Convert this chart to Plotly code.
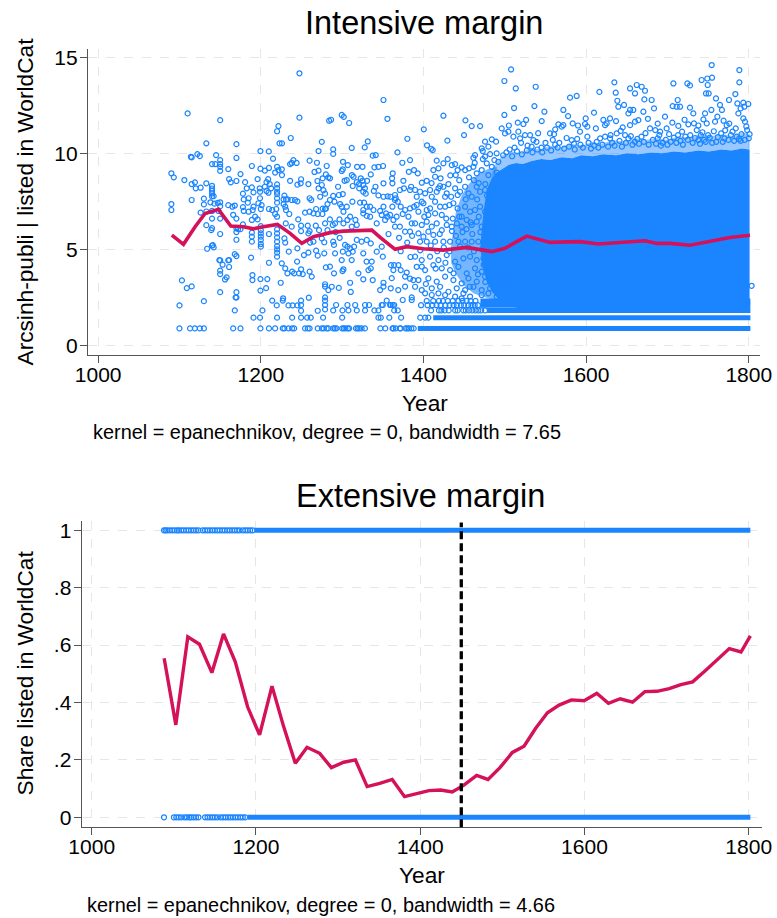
import plotly.graph_objects as go

# ---------------------------------------------------------------
# Intensive margin: arcsinh(publications) of listed authors by year
# ---------------------------------------------------------------
# Individual observations, 1085-1180
obs_1085_1180 = [
    (1110, 12.08), (1150, 11.73), (1133, 10.52), (1170, 10.48), (1090, 8.96), (1093, 8.75),
    (1115, 9.79), (1122, 9.96), (1125, 9.86), (1114, 9.82), (1145, 9.91), (1150, 9.65),
    (1150, 9.44), (1150, 9.30), (1150, 9.09), (1140, 9.44), (1144, 9.44), (1170, 9.76),
    (1160, 9.18), (1106, 8.61), (1115, 8.40), (1119, 8.49), (1120, 8.18), (1126, 8.21),
    (1133, 8.44), (1140, 8.31), (1140, 8.17), (1140, 8.05), (1140, 7.91), (1140, 7.76),
    (1142, 7.77), (1161, 8.66), (1163, 8.49), (1170, 8.56), (1175, 8.92), (1178, 7.90),
    (1179, 7.60), (1090, 7.36), (1090, 7.05), (1115, 7.57), (1130, 7.64), (1130, 7.34),
    (1138, 7.45), (1143, 7.38), (1147, 7.42), (1150, 7.45), (1150, 7.25), (1160, 7.30),
    (1165, 7.22), (1168, 7.28), (1178, 7.20), (1179, 7.00), (1126, 6.91), (1133, 6.97),
    (1140, 7.00), (1148, 7.00), (1133, 6.26), (1140, 6.60), (1140, 6.10), (1150, 6.60),
    (1150, 5.80), (1166, 6.80), (1170, 6.60), (1170, 6.10), (1170, 5.90), (1172, 6.05),
    (1175, 6.05), (1170, 5.50), (1178, 6.30), (1134, 5.03), (1140, 5.20), (1142, 5.10),
    (1168, 4.75), (1170, 4.65), (1150, 4.43), (1153, 4.20), (1150, 3.89), (1150, 3.71),
    (1160, 4.43), (1161, 4.08), (1158, 3.54), (1156, 3.43), (1103, 3.38), (1109, 2.98),
    (1115, 3.07), (1150, 2.77), (1170, 2.77), (1170, 2.49), (1130, 2.30), (1100, 2.08),
    (1168, 1.82), (1139, 6.00), (1141, 5.22), (1149, 4.44), (1161, 4.44), (1169, 2.50),
]

# Individual observations, 1180-1285
obs_1180_1285 = [
    (1247.5, 14.17), (1247.5, 11.86), (1284, 11.70), (1221.7, 11.42), (1220, 11.15),
    (1236.8, 10.80), (1223, 10.52), (1226, 10.52), (1275, 10.60), (1271, 10.12),
    (1199.5, 10.12), (1209.8, 10.10), (1215, 9.72), (1240, 9.65), (1238, 9.50), (1244, 9.50),
    (1236, 9.44), (1260, 9.62), (1269, 9.51), (1281, 9.34), (1189, 9.34), (1199.5, 9.20),
    (1205, 9.10), (1210, 9.24), (1220, 9.30), (1221.7, 9.13), (1225.8, 9.17), (1217.6, 9.00),
    (1266, 9.03), (1271, 9.10), (1280, 8.90), (1276, 8.70), (1283, 8.75), (1196, 8.66),
    (1209, 8.66), (1207, 8.50), (1211, 8.40), (1226, 8.87), (1236, 8.57), (1249.5, 8.65),
    (1245, 8.37), (1249, 8.44), (1258.5, 8.40), (1269.6, 8.56), (1275, 8.35), (1180.7, 8.50),
    (1182.7, 8.18), (1189, 8.23), (1191, 7.97), (1198.7, 8.18), (1199.1, 8.00), (1205, 8.26),
    (1207, 8.04), (1209.4, 7.95), (1212.7, 8.18), (1220, 8.38), (1220, 8.19), (1220, 8.00),
    (1220, 7.88), (1220, 7.66), (1220, 7.43), (1229, 7.80), (1231, 7.60), (1228, 7.60),
    (1233, 7.60), (1238, 7.57), (1242, 7.57), (1245, 7.50), (1260, 7.66), (1262, 7.57),
    (1271, 8.18), (1277, 8.08), (1273, 7.74), (1279, 7.90), (1276, 7.12), (1280, 7.12),
    (1282, 7.36), (1185, 7.66), (1184, 7.43), (1191, 7.22), (1185, 6.96), (1190, 7.05),
    (1199, 7.66), (1197, 7.40), (1201, 7.30), (1200, 7.10), (1210, 7.10), (1214, 7.05),
    (1219, 7.10), (1217.6, 6.84), (1220, 6.70), (1228, 7.36), (1231, 7.05), (1235, 6.84),
    (1230, 7.22), (1246, 6.56), (1254.4, 6.91), (1260, 6.96), (1264.7, 6.87), (1270, 6.84),
    (1268, 7.10), (1275.7, 6.84), (1279, 7.10), (1193, 6.70), (1189, 6.53), (1196, 6.56),
    (1230.7, 6.35), (1238, 6.18), (1249.5, 6.23), (1249.5, 5.95), (1257.7, 6.23), (1260, 5.95),
    (1267.6, 6.23), (1271.6, 6.00), (1279, 6.35), (1282, 6.00), (1200, 6.21), (1200, 6.00),
    (1200, 5.83), (1200, 5.66), (1200, 5.49), (1200, 5.28), (1200, 5.14), (1189, 5.87),
    (1189, 5.66), (1189, 5.40), (1210, 5.80), (1220, 6.04), (1220, 5.83), (1220, 5.62),
    (1220, 5.40), (1220, 5.17), (1220, 5.00), (1220, 4.83), (1220, 4.62), (1229, 5.57),
    (1230, 5.35), (1258.5, 5.83), (1260.6, 5.35), (1264.7, 5.40), (1275, 5.57), (1278, 5.37),
    (1188, 4.57), (1234.4, 4.88), (1245, 5.05), (1253, 4.70), (1258.5, 4.83), (1268, 4.93),
    (1270, 4.67), (1278, 4.79), (1210, 4.30), (1225.8, 4.27), (1230, 4.01), (1232.7, 3.75),
    (1238.5, 3.84), (1241, 3.75), (1247, 3.75), (1249.5, 3.96), (1251.6, 3.71), (1244.6, 4.36),
    (1260, 3.84), (1262.6, 3.58), (1280, 4.06), (1279, 3.18), (1189.7, 3.66), (1189.7, 3.40),
    (1199.5, 3.45), (1208, 3.45), (1224.5, 3.26), (1206.5, 2.98), (1199.5, 2.85), (1279, 3.06),
    (1283, 2.88), (1214, 2.33), (1227.4, 2.45), (1227, 2.33), (1219.6, 2.08), (1249.5, 2.33),
    (1249.5, 2.10), (1249.5, 1.80), (1259, 2.48), (1234, 2.08), (1239, 2.08), (1245, 2.08),
    (1279, 2.50), (1279, 2.33), (1279, 2.10), (1279, 1.87), (1270, 1.80), (1202, 1.82),
]

# Individual observations, 1285-1390
obs_1285_1390 = [
    (1350.8, 12.78), (1355.7, 11.80), (1299.5, 12.00), (1302, 11.90), (1286.4, 11.75),
    (1308.6, 11.58), (1380.2, 10.76), (1331.5, 10.62), (1327.8, 10.31), (1289, 10.21),
    (1289, 9.97), (1311.8, 10.28), (1368, 10.05), (1337.6, 9.88), (1341.3, 9.91), (1383.5, 9.65),
    (1374, 9.51), (1301, 9.56), (1300.8, 9.17), (1299.5, 9.08), (1307, 9.39), (1318.4, 9.30),
    (1325, 9.30), (1339.7, 9.27), (1344.6, 9.30), (1350.3, 9.34), (1362.2, 8.96), (1361.4, 8.70),
    (1382, 9.04), (1388.4, 9.13), (1285, 8.70), (1312, 8.87), (1314, 8.78), (1305.7, 8.61),
    (1303, 8.57), (1322.9, 8.70), (1318, 8.50), (1325, 8.57), (1330.7, 8.57), (1335.2, 8.90),
    (1350.8, 8.44), (1361.8, 8.44), (1375.3, 8.57), (1295, 8.26), (1289, 7.78), (1296, 7.83),
    (1300.8, 7.88), (1313, 8.30), (1320.8, 8.40), (1321, 8.18), (1326, 8.35), (1326, 8.00),
    (1328, 8.18), (1329, 7.90), (1341, 8.26), (1339, 8.04), (1344.6, 7.81), (1350.8, 7.74),
    (1356, 7.76), (1359.4, 7.74), (1365, 7.83), (1366, 7.66), (1371, 8.09), (1376, 8.18),
    (1383.5, 8.09), (1384.8, 8.26), (1285, 7.57), (1290.5, 7.48), (1297.5, 7.36), (1299.5, 7.22),
    (1305.7, 7.22), (1301.6, 6.96), (1312.6, 7.48), (1322, 7.43), (1327, 7.43), (1330.3, 7.22),
    (1326, 7.05), (1334.4, 7.22), (1338.5, 7.05), (1346.7, 7.00), (1350.8, 7.22), (1354, 6.87),
    (1359, 6.79), (1361.8, 7.22), (1365, 7.57), (1368.4, 7.48), (1372, 7.22), (1377.4, 7.05),
    (1383.5, 7.13), (1388.4, 7.22), (1285, 6.56), (1288.5, 6.27), (1291.3, 6.35), (1296.7, 6.56),
    (1301.6, 6.35), (1306.5, 6.53), (1309.8, 6.70), (1311.8, 6.18), (1316.3, 6.53), (1318, 6.27),
    (1326, 6.87), (1330.3, 6.74), (1334.4, 6.70), (1342.5, 6.35), (1348.7, 6.79), (1352.8, 6.53),
    (1355.7, 6.70), (1363, 6.53), (1367, 6.70), (1374.5, 6.84), (1381.5, 6.70), (1385.6, 6.35),
    (1365, 6.18), (1371, 6.18), (1377.4, 5.92), (1383.5, 5.92), (1289, 5.40), (1290, 5.23),
    (1291.3, 4.79), (1303.6, 5.23), (1306.5, 5.14), (1309.8, 5.05), (1314.7, 5.14), (1307.7, 4.79),
    (1313, 4.88), (1318, 5.49), (1324, 5.40), (1330.3, 5.49), (1335.2, 5.31), (1300.8, 4.88),
    (1299.5, 4.44), (1311.8, 4.44), (1326, 4.79), (1348.7, 5.14), (1350, 4.62), (1342.5, 4.88),
    (1330, 4.36), (1336.4, 4.36), (1335.2, 4.01), (1332.3, 3.92), (1301.6, 3.96), (1300.4, 3.87),
    (1290, 3.75), (1285, 4.10), (1320, 3.75), (1326, 3.44), (1337.6, 3.40), (1360, 4.18),
    (1364, 4.18), (1363, 3.92), (1369.2, 4.18), (1372, 3.92), (1377.4, 3.58), (1379.4, 3.79),
    (1383.5, 3.47), (1387.6, 3.40), (1287.2, 3.05), (1295.9, 2.99), (1309.8, 3.26), (1310.6, 2.78),
    (1350.8, 3.26), (1346.7, 2.88), (1350.8, 3.06), (1361, 3.50), (1359.8, 2.97), (1369, 2.88),
    (1377.4, 3.06), (1385.6, 2.50), (1385.6, 2.36), (1354.8, 2.33), (1359.8, 2.10), (1364, 2.10),
    (1292.6, 2.10), (1306.5, 2.10), (1316, 2.10), (1328.2, 2.10), (1333.1, 2.10), (1348.7, 2.10),
    (1350, 2.10), (1359, 2.10), (1362.2, 2.10), (1374.5, 2.36), (1370, 5.60), (1380, 5.35),
    (1386, 5.70), (1372, 4.90), (1384, 4.60), (1357, 5.80), (1292, 5.90), (1297, 5.60),
]

# Individual observations, 1390-1495
obs_1390_1495 = [
    (1424.5, 11.96), (1400.4, 11.25), (1451.6, 11.72), (1459.3, 11.42), (1469.6, 11.42),
    (1429.4, 10.66), (1449.9, 10.95), (1404.4, 10.42), (1409.4, 10.24), (1411.4, 10.17),
    (1484, 10.73), (1489.3, 10.61), (1475.7, 10.61), (1471.6, 10.26), (1472.9, 10.12),
    (1479.8, 10.35), (1416.3, 9.62), (1429.8, 9.70), (1424.5, 9.48), (1463.4, 9.91),
    (1461.4, 9.77), (1475.7, 9.83), (1481.9, 9.96), (1490, 10.00), (1393, 8.96), (1398, 8.47),
    (1404, 8.57), (1412.2, 9.13), (1418.4, 9.22), (1414.3, 8.78), (1434.8, 9.39), (1438.9, 9.44),
    (1442, 9.13), (1447, 9.27), (1439.7, 8.87), (1451.2, 9.13), (1456, 9.22), (1461.4, 9.30),
    (1465.5, 8.96), (1471.6, 9.13), (1477.8, 9.48), (1484, 9.30), (1487.2, 9.65), (1492, 9.56),
    (1479.8, 8.87), (1490, 9.00), (1389.7, 8.09), (1395.8, 8.00), (1391.7, 7.74), (1397.9, 7.48),
    (1402, 7.92), (1408.1, 8.09), (1410.2, 7.74), (1416.3, 8.00), (1418.4, 8.18), (1420.4, 8.30),
    (1424.5, 8.26), (1430.7, 8.40), (1428.6, 7.92), (1426.6, 7.74), (1434, 7.74), (1438.9, 8.18),
    (1442.1, 7.83), (1445, 8.00), (1451.2, 8.26), (1455.3, 7.92), (1459.3, 7.74), (1465.5, 8.26),
    (1469.6, 8.00), (1475.7, 8.09), (1391.7, 7.31), (1399.9, 7.40), (1393.8, 6.96), (1404, 7.05),
    (1408.1, 7.13), (1406, 6.79), (1414.3, 7.48), (1420.4, 7.22), (1426.6, 7.22), (1431.9, 7.31),
    (1414.3, 6.87), (1422.5, 6.79), (1436.8, 7.40), (1442, 7.13), (1447, 6.70), (1451.2, 7.22),
    (1457.3, 6.96), (1463.4, 7.05), (1469.6, 7.22), (1475.7, 6.96), (1481.9, 7.13), (1488, 7.22),
    (1389.7, 6.35), (1397.9, 6.27), (1404, 6.44), (1410.2, 6.18), (1416.3, 6.35), (1422.5, 6.00),
    (1428.6, 6.27), (1434.8, 6.18), (1441, 6.35), (1447, 6.18), (1453.2, 6.53), (1459.3, 6.27),
    (1465.5, 6.44), (1471.6, 6.18), (1477.8, 6.27), (1484, 6.53), (1490, 6.27), (1393.8, 5.83),
    (1399.9, 5.66), (1406, 5.92), (1412.2, 5.75), (1395.8, 5.40), (1404, 5.40), (1414.3, 5.40),
    (1424.5, 5.40), (1432.7, 5.40), (1443, 5.40), (1451.2, 5.40), (1459.3, 5.40), (1467.5, 5.40),
    (1389.7, 4.62), (1397.9, 4.44), (1408.1, 4.62), (1418.4, 4.44), (1428.6, 4.70), (1438.9, 4.36),
    (1449.1, 4.53), (1457.3, 4.62), (1465.5, 4.44), (1473.7, 4.53), (1481.9, 4.70), (1391.7, 4.09),
    (1402, 3.92), (1412.2, 4.18), (1422.5, 4.01), (1432.7, 3.92), (1442.9, 4.09), (1453.2, 3.75),
    (1463.4, 4.01), (1471.6, 3.84), (1477.8, 4.09), (1488, 3.92), (1393.8, 3.40), (1406, 3.49),
    (1416.3, 3.32), (1426.6, 3.58), (1436.8, 3.40), (1447, 3.23), (1455.3, 3.49), (1465.5, 3.32),
    (1475.7, 3.58), (1486, 3.40), (1389.7, 3.05), (1397.9, 2.88), (1410.2, 2.97), (1420.4, 3.05),
    (1430.7, 2.79), (1440.9, 2.97), (1451.2, 2.88), (1461.4, 3.05), (1471.6, 2.88), (1481.9, 2.97),
    (1492.1, 2.88), (1402, 2.71), (1410.2, 2.62), (1418.4, 2.71), (1426.6, 2.62), (1438.9, 2.54),
    (1449.1, 2.71), (1457.3, 2.54), (1471.6, 2.62), (1479.8, 2.71), (1490, 2.54),
    (1462, 8.60), (1466, 7.60), (1468, 6.70), (1470, 5.90), (1472, 5.00), (1474, 4.20),
    (1476, 8.40), (1478, 7.80), (1480, 7.40), (1482, 6.90), (1483, 6.00), (1485, 5.60),
    (1486, 4.90), (1487, 4.30), (1488, 8.10), (1489, 7.60), (1490, 6.80), (1491, 5.90),
    (1492, 5.10), (1493, 4.40), (1494, 3.60), (1480, 5.30), (1478, 4.80), (1476, 3.30),
    (1460, 5.80), (1458, 6.40), (1455, 5.10), (1452, 7.60), (1448, 5.90), (1444, 6.70),
    (1440, 5.70), (1436, 6.60), (1432, 4.90), (1428, 6.60), (1425, 5.10), (1420, 5.80),
    (1417, 4.90), (1409, 5.20), (1401, 6.70), (1396, 4.95), (1463, 9.50), (1473, 9.70),
    (1496, 8.80), (1497, 7.60), (1497, 6.40), (1498, 5.20), (1498, 4.10), (1496, 3.00),
    (1433, 8.85), (1444, 8.60), (1456, 8.75), (1468, 8.45), (1421, 8.70), (1410, 8.45),
    (1435, 5.95), (1445, 5.15), (1453, 6.05), (1462, 4.90), (1467, 3.70), (1457, 3.05),
    (1447, 2.45), (1437, 3.75), (1427, 4.30), (1415, 4.00), (1403, 3.20), (1398, 4.10),
]

# Heavily populated years: solid core of the point cloud
dense_upper_year = [1470, 1474, 1478, 1484, 1490, 1497, 1505, 1514, 1522, 1533,
                    1545, 1556, 1570, 1583, 1594, 1608, 1621, 1637, 1650, 1664,
                    1680, 1693, 1708, 1722, 1738, 1751, 1766, 1779, 1791, 1801]
dense_upper_val = [5.2, 7.0, 8.1, 8.7, 9.0, 9.2, 9.4, 9.5, 9.45, 9.6,
                   9.7, 9.65, 9.8, 9.75, 9.9, 9.85, 9.95, 9.9, 10.0, 9.95,
                   10.05, 10.0, 10.1, 10.05, 10.15, 10.1, 10.2, 10.15, 10.25, 10.2]
dense_lower_year = [1801, 1700, 1600, 1520, 1500, 1492, 1484, 1478, 1472]
dense_lower_val = [1.88, 1.88, 1.88, 1.9, 2.1, 2.4, 2.8, 3.3, 4.2]

# Thinner fringe on top of the solid core
fringe_upper_year = [1486, 1497, 1509, 1520, 1531, 1543, 1556, 1568, 1581, 1595,
                     1607, 1619, 1633, 1646, 1660, 1673, 1687, 1700, 1714, 1727,
                     1741, 1754, 1768, 1781, 1793, 1801]
fringe_upper_val = [9.3, 9.9, 10.1, 10.0, 10.3, 10.2, 10.4, 10.3, 10.5, 10.4,
                    10.6, 10.5, 10.7, 10.6, 10.8, 10.7, 10.8, 10.7, 10.9, 10.8,
                    11.0, 10.9, 11.0, 10.9, 11.1, 11.0]

# Years where the cloud is thickening, before it becomes solid
thick_upper_year = [1434, 1440, 1447, 1454, 1462, 1470, 1480, 1490]
thick_upper_val = [5.2, 7.0, 7.8, 8.3, 8.7, 9.0, 9.2, 9.3]
thick_lower_year = [1490, 1476, 1462, 1450, 1440, 1434]
thick_lower_val = [2.3, 2.5, 2.7, 3.1, 3.7, 4.3]

# Isolated observations above the dense cloud, 1495-1803
obs_upper_1495_1803 = [
    (1507.7, 14.37), (1499.5, 13.77), (1513.5, 13.38), (1538, 13.47), (1536.4, 12.46),
    (1511.4, 12.36), (1499.5, 12.00), (1548.7, 12.17), (1580.2, 12.90), (1588.4, 12.99),
    (1616.3, 13.20), (1634.7, 13.70), (1636.4, 13.16), (1638.4, 12.74), (1639.6, 12.43),
    (1646.6, 12.52), (1652, 12.08), (1654, 12.26), (1572, 12.26), (1577.8, 11.94),
    (1583.5, 11.56), (1599.5, 11.82), (1609.7, 12.12), (1601.5, 11.39), (1598.7, 11.53),
    (1526.2, 11.74), (1522.9, 11.53), (1545.4, 11.68), (1565.9, 11.51), (1570, 11.39),
    (1572, 11.47), (1496.2, 11.30), (1500.3, 11.04), (1504.4, 11.13), (1510.6, 10.87),
    (1516.7, 11.13), (1518.8, 10.78), (1524.9, 10.95), (1531.1, 10.95), (1535.2, 10.69),
    (1555.6, 11.04), (1560.6, 11.00), (1582.3, 10.69), (1592.5, 11.13),
    (1601.5, 10.87), (1617.2, 10.78), (1623.3, 10.87), (1629.4, 10.78), (1637.6, 11.04),
    (1642.5, 11.17), (1647.9, 10.95), (1652, 10.78), (1621.2, 11.74), (1623.3, 11.47),
    (1625.3, 11.56), (1629.4, 11.82), (1636.8, 11.68), (1754.4, 14.60), (1788.4, 14.34),
    (1788.4, 13.70), (1742, 13.82), (1749, 13.90), (1754.8, 13.94), (1749.5, 13.56),
    (1747.4, 13.12), (1750.7, 13.12), (1707.3, 13.64), (1724.5, 13.64), (1727.7, 13.54),
    (1654, 13.38), (1662.2, 13.56), (1668.3, 13.47), (1672.4, 13.26), (1660.1, 13.12),
    (1671.6, 12.81), (1680.6, 12.78), (1683.5, 12.34), (1759.7, 12.86), (1775.7, 12.78),
    (1783.5, 13.09), (1786, 12.60), (1793.3, 12.64), (1799.4, 12.57), (1794.5, 12.43),
    (1790, 12.34), (1706.4, 12.46), (1712.6, 12.78), (1711.4, 12.43), (1715.5, 12.43),
    (1727.7, 12.38), (1731.8, 12.08), (1754, 12.26), (1764.6, 12.52), (1767, 12.26),
    (1658, 12.26), (1670.4, 12.17), (1664.2, 11.73), (1660.1, 11.65), (1654, 11.47),
    (1697, 11.91), (1713.4, 11.43), (1725.7, 11.51), (1732.6, 11.56), (1746.2, 12.08),
    (1744.2, 11.77), (1748.3, 11.56), (1761.4, 11.91), (1758.5, 11.65), (1772.8, 11.47),
    (1787.2, 12.08), (1793.3, 11.82), (1795.3, 11.65), (1678.6, 11.30), (1685, 11.21),
    (1691, 11.13), (1699, 11.30), (1702, 11.00), (1718, 11.13), (1736, 11.21), (1741, 10.95),
    (1766, 11.04), (1780, 11.13), (1798, 11.21), (1668, 10.87), (1688, 10.78), (1708, 10.82),
    (1722, 10.87), (1738, 10.69), (1752, 10.82), (1770, 10.78), (1785, 10.87), (1800, 10.78),
    (1506, 10.20), (1528, 10.40), (1545, 10.30), (1562, 10.45), (1585, 10.50), (1610, 10.40),
    (1632, 10.55), (1660, 10.60), (1694, 10.55), (1716, 10.65), (1745, 10.70), (1760, 10.60),
    (1790, 10.65), (1803.5, 3.10),
    (1498, 9.90), (1502, 10.05), (1509, 9.85), (1512, 10.30), (1515, 10.10), (1520, 10.55),
    (1521, 9.95), (1527, 10.15), (1533, 10.35), (1534, 10.05), (1539, 10.60), (1540, 10.20),
    (1546, 10.05), (1550, 10.55), (1552, 10.30), (1557, 10.15), (1559, 10.70), (1565, 10.30),
    (1567, 10.55), (1573, 10.25), (1576, 10.80), (1579, 10.35), (1586, 10.20), (1589, 10.75),
    (1593, 10.45), (1596, 10.30), (1603, 10.55), (1606, 10.25), (1613, 10.60), (1615, 10.30),
    (1620, 10.45), (1627, 10.35), (1630, 10.95), (1635, 10.40), (1641, 10.65), (1644, 10.35),
    (1649, 10.55), (1655, 10.90), (1657, 10.45), (1663, 10.75), (1665, 10.50), (1671, 10.60),
    (1673, 11.05), (1677, 10.45), (1682, 10.70), (1686, 10.50), (1690, 10.95), (1692, 10.40),
    (1698, 10.70), (1700, 10.45), (1704, 10.60), (1711, 10.55), (1713, 10.95), (1719, 10.45),
    (1725, 10.70), (1728, 10.95), (1731, 10.55), (1734, 10.80), (1740, 10.50), (1743, 11.10),
    (1747, 10.60), (1750, 10.95), (1755, 10.55), (1757, 11.15), (1762, 10.85), (1768, 10.60),
    (1771, 11.20), (1775, 10.70), (1778, 10.95), (1782, 10.65), (1784, 11.30), (1788, 10.75),
    (1791, 11.00), (1795, 10.70), (1797, 11.40), (1801, 11.00), (1776, 11.55), (1769, 11.70),
    (1738, 11.45), (1721, 11.75), (1706, 11.60), (1688, 11.55), (1676, 11.80), (1645, 11.35),
    (1612, 11.30), (1590, 11.45), (1562, 11.25), (1541, 11.05), (1516, 11.60), (1505, 11.45),
]

# Publication counts 1, 2, 3, 4, 5 map to these arcsinh values
row_values = [0.88, 1.44, 1.82, 2.09, 2.31]
# Years with isolated observations sitting on those rows
row1_years = [1100, 1113, 1119, 1125, 1130, 1166, 1175, 1199.5, 1210, 1217.6, 1227, 1229, 1234,
              1238.5, 1241, 1254.4, 1257.7, 1260, 1270, 1275, 1277.4, 1281, 1283, 1289, 1291,
              1293, 1300, 1302, 1304, 1307, 1308.6, 1317, 1319, 1321, 1324, 1328, 1347,
              1353, 1362, 1363, 1366, 1371, 1372, 1378, 1380, 1382, 1385, 1388]
row2_years = [1191, 1199, 1220, 1238.5, 1249.5, 1257, 1261.4, 1276.6, 1300, 1344.6, 1347.5,
              1358, 1372.5, 1396, 1402, 1406]
row3_years = [1289, 1300.4, 1307.7, 1318, 1328.2, 1339.7, 1344.6, 1364, 1368.4, 1409.4, 1419,
              1422, 1426, 1431, 1439, 1442, 1449, 1452, 1456, 1460, 1464, 1467.5, 1471, 1475.7]
row4_years = [1397, 1405, 1411, 1416, 1421, 1427, 1432, 1437, 1441, 1446, 1450, 1455, 1459,
              1463, 1467]
row5_years = [1404, 1412, 1419, 1424, 1430, 1436, 1443, 1448, 1453, 1458, 1464]
# Years over which each row is continuously occupied
row_full_start = [1393, 1412, 1478, 1470, 1470]
row_end = 1802

# Local-constant (Epanechnikov) fit of the intensive margin
fit_int_year = [1090.6, 1104.9, 1119.2, 1131.5, 1147.9, 1163.1, 1178.6, 1191, 1203, 1220.4,
                1236, 1250.4, 1264.7, 1285.2, 1301.6, 1322, 1336.5, 1346.7, 1365.1, 1379.5,
                1400, 1424.5, 1453.2, 1484, 1500.3, 1514.7, 1527, 1555.6, 1592.5, 1615,
                1645.8, 1672.4, 1686.8, 1703.1, 1727.7, 1752.3, 1776.9, 1801.5]
fit_int_val = [5.74, 5.26, 6.18, 6.87, 7.08, 6.21, 6.18, 6.07, 6.18, 6.30,
               5.83, 5.31, 5.66, 5.87, 5.95, 6.00, 6.00, 5.62, 5.00, 5.14,
               5.03, 4.96, 5.10, 4.88, 5.05, 5.40, 5.69, 5.36, 5.40, 5.28,
               5.35, 5.45, 5.31, 5.31, 5.21, 5.42, 5.62, 5.73]

# ---------------------------------------------------------------
# Extensive margin: indicator of being listed in WorldCat
# ---------------------------------------------------------------
listed0_years = [1088, 1100, 1103, 1106, 1109, 1113, 1116, 1119, 1121, 1124, 1127, 1130, 1138,
                 1141, 1144, 1147, 1150, 1153, 1157, 1160, 1163, 1166, 1169, 1172, 1175, 1178,
                 1181, 1184, 1187]
listed1_years = [1088, 1090, 1092, 1095, 1098, 1101, 1104, 1106, 1109, 1112, 1115, 1118, 1121,
                 1124, 1127, 1130, 1135, 1138, 1141, 1144, 1147, 1150, 1153, 1156, 1159, 1162,
                 1165, 1168, 1171, 1174, 1177, 1180, 1184, 1187, 1190, 1193, 1196]
listed0_full = (1190, 1802)
listed1_full = (1198, 1802)

fit_ext_year = [1088.2, 1102.4, 1117, 1131.2, 1146.3, 1160.5, 1174.8, 1189.8, 1204.4, 1219.5,
                1233.7, 1247.9, 1262.2, 1277.6, 1291.8, 1306.8, 1321.1, 1335.4, 1350.7, 1365.9,
                1380.9, 1394.3, 1410.5, 1424.8, 1439, 1453.2, 1468.7, 1482.5, 1497.1, 1512.2,
                1526.4, 1540.6, 1554.9, 1569.1, 1584.1, 1599.6, 1615, 1629.2, 1643.5, 1658.5,
                1673.5, 1688.2, 1703.2, 1717.4, 1731.7, 1746.7, 1761.4, 1776.4, 1790.6, 1802]
fit_ext_val = [0.554, 0.322, 0.629, 0.603, 0.504, 0.639, 0.542, 0.385, 0.287, 0.457,
               0.316, 0.188, 0.244, 0.223, 0.173, 0.192, 0.200, 0.107, 0.118, 0.132,
               0.072, 0.081, 0.093, 0.095, 0.088, 0.112, 0.146, 0.132, 0.173, 0.226,
               0.248, 0.310, 0.364, 0.391, 0.409, 0.406, 0.432, 0.397, 0.413, 0.401,
               0.438, 0.439, 0.448, 0.462, 0.472, 0.510, 0.548, 0.588, 0.576, 0.632]
printing_year = 1450

# ---------------------------------------------------------------
BLUE = "#1A85FF"
RED = "#D41159"
FONT = "Liberation Sans, Arial, sans-serif"
W, H = 777, 918


def px_x(p):
    return p / W


def px_y(p):
    return 1 - p / H


def band(xs_up, ys_up, xs_lo, ys_lo, color):
    return go.Scatter(x=xs_up + xs_lo, y=ys_up + ys_lo, fill="toself", fillcolor=color,
                      mode="lines", line=dict(width=0), xaxis="x", yaxis="y",
                      hoverinfo="skip", showlegend=False)


fig = go.Figure()

# --- top panel ---
fig.add_trace(band(thick_upper_year, thick_upper_val, thick_lower_year, thick_lower_val,
                   "rgba(26,133,255,0.6)"))
fig.add_trace(band(fringe_upper_year, fringe_upper_val,
                   dense_upper_year[::-1], dense_upper_val[::-1], "rgba(26,133,255,0.45)"))
fig.add_trace(band(dense_upper_year, dense_upper_val, dense_lower_year, dense_lower_val, BLUE))

for val, start in zip(row_values, row_full_start):
    fig.add_trace(go.Scatter(
        x=[start, row_end], y=[val, val], mode="lines",
        line=dict(color=BLUE, width=5), xaxis="x", yaxis="y", showlegend=False))

obs_all = obs_1085_1180 + obs_1180_1285 + obs_1285_1390 + obs_1390_1495 + obs_upper_1495_1803
row_pts = []
for val, yrs in zip(row_values, [row1_years, row2_years, row3_years, row4_years, row5_years]):
    row_pts += [(y, val) for y in yrs]
pts = obs_all + row_pts
fig.add_trace(go.Scatter(
    x=[p[0] for p in pts], y=[p[1] for p in pts], mode="markers",
    marker=dict(symbol="circle-open", size=5, color=BLUE, line=dict(width=1.2, color=BLUE)),
    xaxis="x", yaxis="y", showlegend=False))

fig.add_trace(go.Scatter(
    x=fit_int_year, y=fit_int_val, mode="lines", line=dict(color=RED, width=3.6),
    xaxis="x", yaxis="y", showlegend=False))

# --- bottom panel ---
for val, yrs, full in [(0, listed0_years, listed0_full), (1, listed1_years, listed1_full)]:
    fig.add_trace(go.Scatter(
        x=list(full), y=[val, val], mode="lines", line=dict(color=BLUE, width=5),
        xaxis="x2", yaxis="y2", showlegend=False))
    fig.add_trace(go.Scatter(
        x=yrs, y=[val] * len(yrs), mode="markers",
        marker=dict(symbol="circle-open", size=5, color=BLUE, line=dict(width=1.2, color=BLUE)),
        xaxis="x2", yaxis="y2", showlegend=False))

fig.add_trace(go.Scatter(
    x=fit_ext_year, y=fit_ext_val, mode="lines", line=dict(color=RED, width=3.4),
    xaxis="x2", yaxis="y2", showlegend=False))

fig.add_shape(type="line", xref="x2", yref="y2 domain", x0=printing_year, x1=printing_year,
              y0=0, y1=0.995, line=dict(color="black", width=3.3, dash="8px,4px"))

axis_common = dict(
    showline=True, linecolor="#555555", linewidth=1.3, ticks="outside", ticklen=7,
    tickwidth=1.3, tickcolor="#555555", showgrid=True, gridcolor="#E6E6E6", gridwidth=1.2,
    griddash="dash", zeroline=False, tickfont=dict(family=FONT, size=21, color="black"),
    mirror=False, automargin=False,
)

fig.update_layout(
    width=W, height=H, margin=dict(l=0, r=0, t=0, b=0, pad=0, autoexpand=False),
    paper_bgcolor="white", plot_bgcolor="white", showlegend=False,
    xaxis=dict(domain=[px_x(88), px_x(760)], range=[987.5, 1813.8], anchor="y",
               tickvals=[1000, 1200, 1400, 1600, 1800], ticklabelstandoff=-7, **axis_common),
    yaxis=dict(domain=[px_y(355.3), px_y(49.3)], range=[-0.52, 15.42], anchor="x",
               tickvals=[0, 5, 10, 15], ticklabelstandoff=-2, **axis_common),
    xaxis2=dict(domain=[px_x(81.7), px_x(761.7)], range=[987.8, 1815.8], anchor="y2",
                tickvals=[1000, 1200, 1400, 1600, 1800], ticklabelstandoff=-7, **axis_common),
    yaxis2=dict(domain=[px_y(827.3), px_y(521)], range=[-0.0348, 1.0324], anchor="x2",
                tickvals=[0, 0.2, 0.4, 0.6, 0.8, 1], ticklabelstandoff=-2,
                ticktext=["0", ".2", ".4", ".6", ".8", "1"], **axis_common),
)

texts = [
    ("Intensive margin", 424, 23.5, 32.5, 0),
    ("Extensive margin", 421, 496, 32.5, 0),
    ("Year", 424.5, 403, 22.7, 0),
    ("Year", 421.7, 875, 22.7, 0),
    ("Arcsinh-publi | listed in WorldCat", 24.5, 202, 22.7, -90),
    ("Share listed in WorldCat", 24.5, 673, 22.7, -90),
]
for txt, x, y, size, ang in texts:
    fig.add_annotation(text=txt, x=px_x(x), y=px_y(y), xref="paper", yref="paper",
                       xanchor="center", yanchor="middle", showarrow=False, textangle=ang,
                       font=dict(family=FONT, size=size, color="black"))

for txt, x, y in [("kernel = epanechnikov, degree = 0, bandwidth = 7.65", 91, 432),
                  ("kernel = epanechnikov, degree = 0, bandwidth = 4.66", 85, 905)]:
    fig.add_annotation(text=txt, x=px_x(x), y=px_y(y), xref="paper", yref="paper",
                       xanchor="left", yanchor="middle", showarrow=False,
                       font=dict(family=FONT, size=19.9, color="black"))

fig.write_html("out.html")
